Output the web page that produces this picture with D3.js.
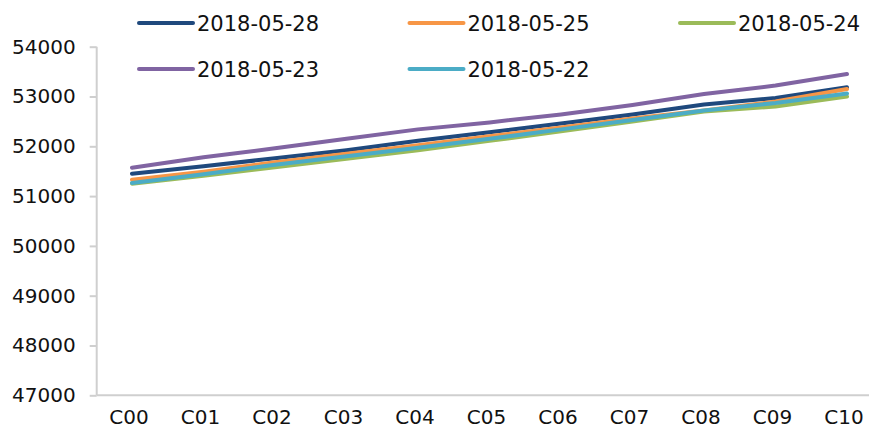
<!DOCTYPE html>
<html>
<head>
<meta charset="utf-8">
<script src="https://cdn.jsdelivr.net/npm/d3@7"></script>
<style>
  body { margin: 0; background: #fff; }
  text { font-family: "DejaVu Sans", sans-serif; fill: #111; }
</style>
</head>
<body>
<div id="chart"></div>
<script>
var categories = ['C00','C01','C02','C03','C04','C05','C06','C07','C08','C09','C10']
var seriesNames = ['2018-05-28','2018-05-25','2018-05-24','2018-05-23','2018-05-22']
var s0528 = [51450,51600,51760,51920,52110,52280,52460,52640,52840,52970,53185]
var s0525 = [51330,51490,51680,51850,52020,52200,52380,52560,52720,52900,53150]
var s0524 = [51250,51410,51580,51750,51920,52110,52300,52500,52700,52800,53000]
var s0523 = [51570,51780,51960,52150,52340,52480,52640,52830,53050,53220,53450]
var s0522 = [51265,51440,51630,51800,51970,52150,52340,52530,52720,52870,53060]
var yTicks = [47000,48000,49000,50000,51000,52000,53000,54000]
var colors = ['#1F497D','#F79646','#9BBB59','#8064A2','#4BACC6']

var seriesValues = [s0528, s0525, s0524, s0523, s0522]

var width = 869, height = 442

var svg = d3.select('#chart')
    .append('svg')
    .attr('width', width)
    .attr('height', height)

var x = d3.scalePoint()
    .domain(categories)
    .range([132, 847])

var y = d3.scaleLinear()
    .domain([47000, 54000])
    .range([395.3, 46.7])

var axisColor = '#cfcfcf'

// y axis
var yAxis = svg.append('g')
    .attr('transform', 'translate(96.7,0)')
    .call(d3.axisLeft(y).tickValues(yTicks).tickSize(7).tickPadding(14).tickFormat(d3.format('d')))
yAxis.select('.domain').remove()
yAxis.selectAll('.tick line').attr('stroke', axisColor).attr('stroke-width', 2)
yAxis.selectAll('.tick text')
    .attr('font-size', '20px')
    .attr('font-family', '"DejaVu Sans", sans-serif')
    .attr('fill', '#111')

svg.append('line')
    .attr('x1', 96.7).attr('x2', 96.7)
    .attr('y1', y(54000)).attr('y2', y(47000))
    .attr('stroke', axisColor).attr('stroke-width', 2)

// x axis
svg.append('line')
    .attr('x1', 96.7).attr('x2', width)
    .attr('y1', y(47000)).attr('y2', y(47000))
    .attr('stroke', axisColor).attr('stroke-width', 2)

svg.selectAll('.xlabel')
    .data(categories)
    .enter().append('text')
    .attr('class', 'xlabel')
    .attr('x', function(d) { return x(d) - 3 })
    .attr('y', 424)
    .attr('text-anchor', 'middle')
    .attr('font-size', '20px')
    .text(function(d) { return d })

// lines
var line = d3.line()
    .x(function(d, i) { return x(categories[i]) })
    .y(function(d) { return y(d) })

svg.selectAll('.series')
    .data(seriesValues)
    .enter().append('path')
    .attr('class', 'series')
    .attr('d', function(d) { return line(d) })
    .attr('fill', 'none')
    .attr('stroke', function(d, i) { return colors[i] })
    .attr('stroke-width', 4)
    .attr('stroke-linecap', 'round')
    .attr('stroke-linejoin', 'round')

// legend
var legendOrder = [0, 1, 2, 3, 4]
var legend = svg.selectAll('.legend')
    .data(legendOrder)
    .enter().append('g')
    .attr('class', 'legend')
    .attr('transform', function(d, i) {
      var col = i % 3, row = Math.floor(i / 3)
      return 'translate(' + (139 + col * 270.5) + ',' + (23 + row * 46) + ')'
    })

legend.append('line')
    .attr('x1', 0).attr('x2', 54)
    .attr('y1', 0).attr('y2', 0)
    .attr('stroke', function(d) { return colors[d] })
    .attr('stroke-width', 4)
    .attr('stroke-linecap', 'round')

legend.append('text')
    .attr('x', 58)
    .attr('y', 7.5)
    .attr('font-size', '21px')
    .text(function(d) { return seriesNames[d] })
</script>
</body>
</html>
